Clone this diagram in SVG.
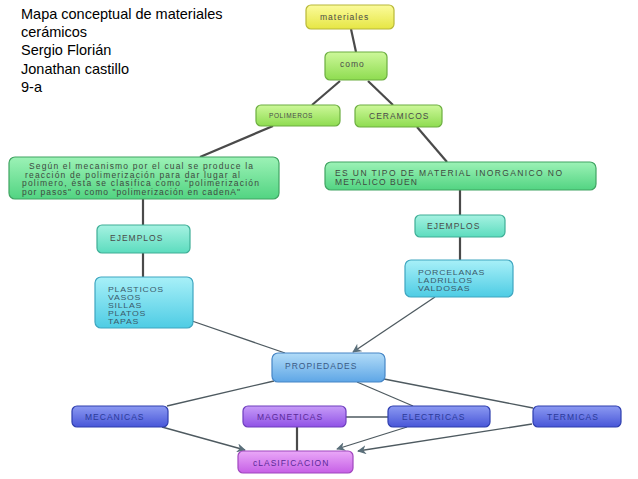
<svg xmlns="http://www.w3.org/2000/svg" width="638" height="479" viewBox="0 0 638 479">
<defs>
<linearGradient id="gY" x1="0" y1="0" x2="0" y2="1"><stop offset="0" stop-color="#fbfb9c"/><stop offset="1" stop-color="#e6e644"/></linearGradient>
<linearGradient id="gLG" x1="0" y1="0" x2="0" y2="1"><stop offset="0" stop-color="#cdf89a"/><stop offset="1" stop-color="#8edc50"/></linearGradient>
<linearGradient id="gMG" x1="0" y1="0" x2="0" y2="1"><stop offset="0" stop-color="#9cf2b6"/><stop offset="1" stop-color="#52d482"/></linearGradient>
<linearGradient id="gT" x1="0" y1="0" x2="0" y2="1"><stop offset="0" stop-color="#a6f2e2"/><stop offset="1" stop-color="#5cdcbe"/></linearGradient>
<linearGradient id="gC" x1="0" y1="0" x2="0" y2="1"><stop offset="0" stop-color="#a8f0f8"/><stop offset="1" stop-color="#4ecce4"/></linearGradient>
<linearGradient id="gLB" x1="0" y1="0" x2="0" y2="1"><stop offset="0" stop-color="#b2dcf8"/><stop offset="1" stop-color="#5ea6e6"/></linearGradient>
<linearGradient id="gB" x1="0" y1="0" x2="0" y2="1"><stop offset="0" stop-color="#8c9af2"/><stop offset="1" stop-color="#4856d8"/></linearGradient>
<linearGradient id="gP" x1="0" y1="0" x2="0" y2="1"><stop offset="0" stop-color="#c79cf8"/><stop offset="1" stop-color="#9052e6"/></linearGradient>
<linearGradient id="gM" x1="0" y1="0" x2="0" y2="1"><stop offset="0" stop-color="#eaa8f8"/><stop offset="1" stop-color="#c660e6"/></linearGradient>
<marker id="arr" viewBox="0 0 10 10" refX="9" refY="5" markerWidth="9" markerHeight="9" markerUnits="userSpaceOnUse" orient="auto">
<path d="M0,0 L10,5 L0,10 L3,5 z" fill="#5a6f7a"/>
</marker>
</defs>
<style>
.title{font-family:"Liberation Sans",Arial,sans-serif;font-size:14.5px;fill:#000}
.lbl{font-family:"Liberation Sans",Arial,sans-serif;font-size:8.5px;letter-spacing:1px;fill:#4a4a4a}
.lst{font-family:"Liberation Sans",Arial,sans-serif;font-size:7px;letter-spacing:0.6px;fill:#3a5a6a}
.txt{font-family:"Liberation Sans",Arial,sans-serif;font-size:8.5px;fill:#3e4a40}
.bl{fill:#2a3a9a}
.pu{fill:#5a2a98}
.lb{fill:#3a5a86}
.c1{stroke:#4a4a4a;stroke-width:2.2;fill:none}
.c2{stroke:#4e5a60;stroke-width:1.3;fill:none}
rect{stroke-width:1.2}
</style>
<rect width="638" height="479" fill="#ffffff"/>
<g id="title">
<text class="title" x="21" y="19">Mapa conceptual de materiales</text>
<text class="title" x="21" y="37">cerámicos</text>
<text class="title" x="21" y="55">Sergio Florián</text>
<text class="title" x="21" y="73.5">Jonathan castillo</text>
<text class="title" x="21" y="92">9-a</text>
</g>
<g id="connectors">
<line class="c1" x1="351" y1="29" x2="356" y2="52"/>
<line class="c1" x1="340" y1="81" x2="312" y2="105"/>
<line class="c1" x1="368" y1="81" x2="393" y2="105"/>
<line class="c1" x1="273" y1="126" x2="200" y2="157"/>
<line class="c1" x1="417" y1="127" x2="447" y2="162"/>
<line class="c1" x1="143" y1="199" x2="143" y2="225"/>
<line class="c1" x1="143" y1="253" x2="143" y2="277"/>
<line class="c1" x1="460" y1="190" x2="460" y2="215"/>
<line class="c1" x1="460" y1="237" x2="460" y2="260"/>
<line class="c2" x1="192" y1="321" x2="285" y2="353"/>
<line class="c2" x1="435" y1="297" x2="353" y2="352" marker-end="url(#arr)"/>
<line class="c2" x1="274" y1="381" x2="167" y2="406"/>
<line class="c2" x1="357" y1="382" x2="413" y2="406"/>
<line class="c2" x1="384" y1="379" x2="533" y2="408"/>
<line class="c2" x1="346" y1="417" x2="388" y2="417"/>
<line class="c2" x1="162" y1="427" x2="245" y2="450" marker-end="url(#arr)"/>
<line class="c1" x1="297" y1="427" x2="297" y2="451"/>
<line class="c2" x1="407" y1="427" x2="337" y2="449" marker-end="url(#arr)"/>
<line class="c2" x1="532" y1="424" x2="358" y2="451" marker-end="url(#arr)"/>
</g>
<g id="materiales">
<rect x="306" y="5" width="88" height="24" rx="5" fill="url(#gY)" stroke="#b8b838"/>
<text class="lbl" x="320" y="20">materiales</text>
</g>
<g id="como">
<rect x="325" y="52" width="62" height="28" rx="5" fill="url(#gLG)" stroke="#6cae40"/>
<text class="lbl" x="340" y="67">como</text>
</g>
<g id="polimeros">
<rect x="256" y="105" width="84" height="21" rx="5" fill="url(#gLG)" stroke="#6cae40"/>
<text class="lbl" x="269" y="118" style="font-size:6.5px;letter-spacing:0.6px">POLIMEROS</text>
</g>
<g id="ceramicos">
<rect x="355" y="105" width="87" height="22" rx="5" fill="url(#gLG)" stroke="#6cae40"/>
<text class="lbl" x="369" y="119">CERAMICOS</text>
</g>
<g id="def-polimeros">
<rect x="9" y="157" width="270" height="42" rx="6" fill="url(#gMG)" stroke="#40a462"/>
<text class="txt" x="29" y="169" textLength="224" lengthAdjust="spacing">Según el mecanismo por el cual se produce la</text>
<text class="txt" x="25" y="177.5" textLength="215" lengthAdjust="spacing">reacción de polimerización para dar lugar al</text>
<text class="txt" x="22" y="186" textLength="237" lengthAdjust="spacing">polimero, ésta se clasifica como "polimerización</text>
<text class="txt" x="22" y="194.5" textLength="218" lengthAdjust="spacing">por pasos" o como "polimerización en cadenA"</text>
</g>
<g id="def-ceramicos">
<rect x="325" y="162" width="271" height="28" rx="6" fill="url(#gMG)" stroke="#40a462"/>
<text class="txt" x="335" y="176" textLength="227" lengthAdjust="spacing">ES UN TIPO DE MATERIAL INORGANICO NO</text>
<text class="txt" x="335" y="184.5" textLength="82" lengthAdjust="spacing">METALICO BUEN</text>
</g>
<g id="ejemplos-1">
<rect x="97" y="225" width="93" height="28" rx="5" fill="url(#gT)" stroke="#3eae96"/>
<text class="lbl" x="110" y="241">EJEMPLOS</text>
</g>
<g id="ejemplos-2">
<rect x="415" y="215" width="90" height="22" rx="5" fill="url(#gT)" stroke="#3eae96"/>
<text class="lbl" x="427" y="229">EJEMPLOS</text>
</g>
<g id="ejemplos-polimeros">
<rect x="95" y="277" width="98" height="51" rx="6" fill="url(#gC)" stroke="#3ea6c0"/>
<g transform="translate(108,0) scale(1.25,1)">
<text class="lst" x="0" y="292">PLASTICOS</text>
<text class="lst" x="0" y="300">VASOS</text>
<text class="lst" x="0" y="308">SILLAS</text>
<text class="lst" x="0" y="316">PLATOS</text>
<text class="lst" x="0" y="324">TAPAS</text>
</g>
</g>
<g id="ejemplos-ceramicos">
<rect x="405" y="260" width="108" height="37" rx="6" fill="url(#gC)" stroke="#3ea6c0"/>
<g transform="translate(418,0) scale(1.25,1)">
<text class="lst" x="0" y="275">PORCELANAS</text>
<text class="lst" x="0" y="283">LADRILLOS</text>
<text class="lst" x="0" y="291">VALDOSAS</text>
</g>
</g>
<g id="propiedades">
<rect x="272" y="353" width="113" height="29" rx="6" fill="url(#gLB)" stroke="#4686c6"/>
<text class="lbl lb" x="285" y="368.5">PROPIEDADES</text>
</g>
<g id="mecanicas">
<rect x="72" y="406" width="96" height="21" rx="5" fill="url(#gB)" stroke="#2e3eae"/>
<text class="lbl bl" x="85" y="419.5">MECANICAS</text>
</g>
<g id="magneticas">
<rect x="243" y="406" width="103" height="21" rx="5" fill="url(#gP)" stroke="#6e3ebe"/>
<text class="lbl pu" x="257" y="419.5">MAGNETICAS</text>
</g>
<g id="electricas">
<rect x="388" y="406" width="102" height="21" rx="5" fill="url(#gB)" stroke="#2e3eae"/>
<text class="lbl bl" x="402" y="419.5">ELECTRICAS</text>
</g>
<g id="termicas">
<rect x="533" y="406" width="88" height="21" rx="5" fill="url(#gB)" stroke="#2e3eae"/>
<text class="lbl bl" x="547" y="419.5">TERMICAS</text>
</g>
<g id="clasificacion">
<rect x="238" y="451" width="115" height="22" rx="5" fill="url(#gM)" stroke="#a046be"/>
<text class="lbl pu" x="253" y="465.5">cLASIFICACION</text>
</g>
</svg>
